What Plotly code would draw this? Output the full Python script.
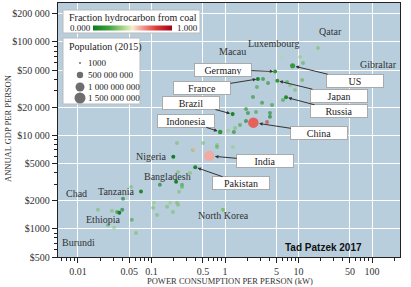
import numpy as np
import plotly.graph_objects as go

# ---------------- data ----------------
countries = ["China", "India", "US", "Indonesia", "Brazil", "Pakistan", "Nigeria",
             "Bangladesh", "Russia", "Japan", "Ethiopia", "Germany", "France",
             "Tanzania", "North Korea"]
power_kw = [2.43, 0.61, 8.3, 0.86, 1.27, 0.394, 0.198, 0.216, 6.76, 5.15, 0.0365,
            4.8, 2.8, 0.072, 0.94]
gdp = [13700, 6040, 55700, 10900, 16900, 4570, 5930, 3200, 25600, 38500, 1490,
       48300, 40200, 2510, 1600]
population = [1371e6, 1311e6, 321e6, 258e6, 206e6, 189e6, 182e6, 161e6, 144e6,
              127e6, 99e6, 81e6, 66e6, 53e6, 25e6]
coal_frac = [0.74, 0.60, 0.14, 0.12, 0.04, 0.03, 0.0, 0.02, 0.06, 0.12, 0.0,
             0.12, 0.04, 0.05, 0.30]

# other (unlabelled) countries
other_kw = [1.93, 2.05, 1.37, 1.6, 1.93, 1.1, 1.32, 3.73, 3.19, 2.64, 0.379, 0.502,
            0.778, 1.28, 3.29, 3.85, 6.98, 7.66, 4.36, 4.09, 6.15, 8.96, 11.2, 11.5,
            10.5, 18.4, 2.4, 2.72, 4.09, 5.97, 0.041, 0.034, 0.040, 0.029, 0.0187,
            0.054, 0.031, 0.0256, 0.0615, 0.053, 0.108, 0.13, 0.237, 0.163, 0.179,
            0.222, 0.105, 0.119, 0.26, 0.222, 0.23, 0.367, 0.26, 0.334, 0.778, 0.23,
            0.196]
other_gdp = [19200, 17400, 12000, 12900, 14300, 11200, 10900, 13900, 22300, 17800,
             7170, 8310, 7530, 7530, 40200, 36400, 37400, 34700, 21200, 17400, 24000,
             30700, 39200, 59600, 69200, 86300, 25800, 33000, 15800, 69200, 2100, 1520,
             1600, 1560, 1600, 1250, 1030, 1100, 906, 2810, 1900, 2960, 2490, 1720,
             1900, 1900, 1680, 1410, 2960, 8310, 4070, 7000, 2810, 3970, 7910, 1810,
             1520]
other_pop = [10e6, 20e6, 8e6, 30e6, 12e6, 9e6, 40e6, 5e6, 10e6, 20e6, 20e6, 6e6,
             8e6, 5e6, 20e6, 10e6, 8e6, 10e6, 5e6, 40e6, 5e6, 9e6, 8e6, 3e6, 4e6,
             2e6, 5e6, 10e6, 30e6, 3e6, 15e6, 12e6, 30e6, 8e6, 10e6, 8e6, 10e6, 5e6,
             5e6, 5e6, 10e6, 50e6, 8e6, 8e6, 8e6, 8e6, 6e6, 6e6, 10e6, 8e6, 10e6,
             30e6, 8e6, 20e6, 10e6, 8e6, 8e6]
other_coal = [0.1, 0.05, 0.3, 0.2, 0.0, 0.35, 0.05, 0.85, 0.1, 0.2, 0.58, 0.3,
              0.25, 0.35, 0.05, 0.1, 0.2, 0.3, 0.15, 0.05, 0.2, 0.3, 0.25, 0.25, 0.35,
              0.3, 0.1, 0.2, 0.0, 0.4, 0.0, 0.1, 0.0, 0.3, 0.3, 0.2, 0.35, 0.25, 0.3,
              0.3, 0.35, 0.0, 0.3, 0.3, 0.35, 0.3, 0.3, 0.3, 0.2, 0.3, 0.3, 0.3,
              0.25, 0.3, 0.3, 0.3, 0.3]

# text-only country labels (position in data units)
plain_labels = ["Qatar", "Luxembourg", "Macau", "Gibraltar", "Chad", "Burundi"]
plain_kw = [26.8, 4.5, 1.28, 120.7, 0.0094, 0.0103]
plain_gdp = [128800, 97500, 78200, 56800, 2370, 708]

# boxed labels: country -> box offset (px)
boxed = {"Germany": (-52, -2), "France": (-56, 9), "Brazil": (-42, -11),
         "Indonesia": (-34, -11), "US": (62, 15), "Japan": (62, 15),
         "Russia": (53, 14), "China": (66, 10), "India": (56, 5),
         "Pakistan": (46, 16)}

x_ticks = [0.01, 0.05, 0.1, 0.5, 1, 5, 10, 50, 100]
x_ticktext = ["0.01", "0.05", "0.1", "0.5", "1", "5", "10", "50", "100"]
y_ticks = [500, 1000, 2000, 5000, 10000, 20000, 50000, 100000, 200000]
y_ticktext = ["$500", "$1000", "$2000", "$5000", "$10 000", "$20 000", "$50 000",
              "$100 000", "$200 000"]

legend_pops = [1000, 500e6, 1000e6, 1500e6]
legend_text = ["1000", "500 000 000", "1 000 000 000", "1 500 000 000"]

# ---------------- figure ----------------
W, H = 411, 287
ML, MR, MT, MB = 58, 11, 3, 30
PW, PH = W - ML - MR, H - MT - MB


def px(xp):
    return (xp - ML) / PW


def py(yp):
    return (H - MB - yp) / PH


SERIF = "Liberation Serif, Times New Roman, serif"
cscale = [[0.0, "#0a7a1c"], [0.2, "#3ea23a"], [0.38, "#a8d488"], [0.5, "#f4f0cc"],
          [0.6, "#f4a8a0"], [0.8, "#e03a34"], [1.0, "#a0001e"]]
MAXD = 11.0
sref = np.sqrt(1.5e9) / MAXD

all_x = list(power_kw) + list(other_kw)
all_y = list(gdp) + list(other_gdp)
all_p = list(population) + list(other_pop)
all_c = list(coal_frac) + list(other_coal)
all_o = [0.95] * len(power_kw) + [0.6] * len(other_kw)
order = np.argsort(all_p)[::-1]
ax_ = np.array(all_x)[order]
ay_ = np.array(all_y)[order]
ap_ = np.array(all_p)[order]
ac_ = np.array(all_c)[order]
ao_ = np.array(all_o)[order]

fig = go.Figure()
fig.add_trace(go.Scatter(
    x=ax_, y=ay_, mode="markers", hoverinfo="skip", showlegend=False,
    marker=dict(size=np.sqrt(ap_), sizemode="diameter", sizeref=sref, sizemin=2,
                color=ac_, cmin=0, cmax=1, colorscale=cscale, opacity=ao_,
                line=dict(width=0), showscale=True,
                colorbar=dict(orientation="h", x=px(132.5), xanchor="center",
                              y=py(27.5), yanchor="middle", len=79, lenmode="pixels",
                              thickness=5, thicknessmode="pixels", outlinewidth=0,
                              showticklabels=False, ticks="", xpad=0, ypad=0,
                              bgcolor="rgba(0,0,0,0)"))))

annotations = []
shapes = []

# legend boxes
shapes.append(dict(type="rect", xref="paper", yref="paper", x0=px(63), x1=px(200),
                   y0=py(33), y1=py(10), fillcolor="white", line=dict(color="#bbbbbb", width=1),
                   layer="above"))
shapes.append(dict(type="rect", xref="paper", yref="paper", x0=px(63), x1=px(140),
                   y0=py(104), y1=py(38), fillcolor="white", line=dict(color="#bbbbbb", width=1),
                   layer="above"))
annotations.append(dict(xref="paper", yref="paper", x=px(67), y=py(17), xanchor="left",
                        yanchor="middle", text="Fraction hydrocarbon from coal",
                        showarrow=False, font=dict(family=SERIF, size=10, color="#222")))
annotations.append(dict(xref="paper", yref="paper", x=px(68), y=py(27.5), xanchor="left",
                        yanchor="middle", text="0.000", showarrow=False,
                        font=dict(family=SERIF, size=9, color="#222")))
annotations.append(dict(xref="paper", yref="paper", x=px(175), y=py(27.5), xanchor="left",
                        yanchor="middle", text="1.000", showarrow=False,
                        font=dict(family=SERIF, size=9, color="#222")))
annotations.append(dict(xref="paper", yref="paper", x=px(67), y=py(47), xanchor="left",
                        yanchor="middle", text="Population (2015)", showarrow=False,
                        font=dict(family=SERIF, size=10, color="#222")))
leg_y = [63, 75, 87, 98]
for p, t, yy in zip(legend_pops, legend_text, leg_y):
    d = max(2.0, np.sqrt(p) / sref)
    shapes.append(dict(type="circle", xref="paper", yref="paper", xsizemode="pixel",
                       ysizemode="pixel", xanchor=px(80), yanchor=py(yy),
                       x0=-d / 2, x1=d / 2, y0=-d / 2, y1=d / 2,
                       fillcolor="#6e6e6e", line=dict(width=0), layer="above"))
    annotations.append(dict(xref="paper", yref="paper", x=px(86), y=py(yy),
                            xanchor="left", yanchor="middle", text=t, showarrow=False,
                            font=dict(family=SERIF, size=9, color="#222")))

# boxed labels with arrows
for name, (dx, dy) in boxed.items():
    i = countries.index(name)
    r = np.sqrt(population[i]) / sref / 2
    annotations.append(dict(
        x=np.log10(power_kw[i]), y=np.log10(gdp[i]), xref="x", yref="y",
        text=name, showarrow=True, ax=dx, ay=dy, axref="pixel", ayref="pixel",
        arrowhead=2, arrowsize=0.7, arrowwidth=1, arrowcolor="#333",
        standoff=r + 0.5, bgcolor="white", bordercolor="#aaaaaa", borderwidth=1,
        borderpad=1, width=54, height=10,
        font=dict(family=SERIF, size=10, color="#222")))

# labels next to points
side = {"Nigeria": ("right", -4, 0), "Bangladesh": ("center", -9, 5),
        "Tanzania": ("right", -4, 0), "Ethiopia": ("center", -16, -7),
        "North Korea": ("center", 0, -6)}
for name, (anc, xs, ys) in side.items():
    i = countries.index(name)
    annotations.append(dict(x=np.log10(power_kw[i]), y=np.log10(gdp[i]), xref="x", yref="y",
                            text=name, showarrow=False, xanchor=anc, yanchor="middle",
                            xshift=xs, yshift=ys,
                            font=dict(family=SERIF, size=10, color="#333")))

for t, xv, yv in zip(plain_labels, plain_kw, plain_gdp):
    annotations.append(dict(x=np.log10(xv), y=np.log10(yv), xref="x", yref="y", text=t,
                            showarrow=False, xanchor="center", yanchor="middle",
                            font=dict(family=SERIF, size=10, color="#333")))

annotations.append(dict(xref="paper", yref="paper", x=px(323), y=py(247), text="<b>Tad Patzek 2017</b>",
                        showarrow=False, xanchor="center", yanchor="middle",
                        font=dict(family="Liberation Sans Narrow, Liberation Sans, sans-serif",
                                  size=10, color="#111")))

# axis titles
annotations.append(dict(xref="paper", yref="paper", x=px(8), y=py(129), text="ANNUAL GDP PER PERSON",
                        textangle=-90, showarrow=False, xanchor="center", yanchor="middle",
                        font=dict(family=SERIF, size=8.5, color="#333")))
annotations.append(dict(xref="paper", yref="paper", x=px(230), y=py(281),
                        text="POWER CONSUMPTION PER PERSON (kW)",
                        showarrow=False, xanchor="center", yanchor="middle",
                        font=dict(family=SERIF, size=8.5, color="#333")))

x_minor = [m * 10.0 ** e for e in range(-3, 3) for m in range(2, 10)
           if not (m == 5 and e >= -2)]
y_minor = [m * 10.0 ** e for e in range(2, 6) for m in range(2, 10)
           if not (m in (2, 5) and e >= 2)]

fig.update_layout(
    width=W, height=H, margin=dict(l=ML, r=MR, t=MT, b=MB, autoexpand=False),
    paper_bgcolor="white", plot_bgcolor="#b8cedc",
    annotations=annotations, shapes=shapes,
    xaxis=dict(type="log", range=[np.log10(0.00535), np.log10(240)],
               tickvals=x_ticks, ticktext=x_ticktext, ticks="outside", ticklen=5,
               tickcolor="#222", showgrid=True, gridcolor="white", gridwidth=1,
               showline=True, linecolor="#222", linewidth=1.3, mirror=True, zeroline=False,
               tickfont=dict(family=SERIF, size=10, color="#333"),
               minor=dict(tickvals=x_minor, ticks="outside", ticklen=3, tickcolor="#222",
                          showgrid=False)),
    yaxis=dict(type="log", range=[np.log10(500), 5.417],
               tickvals=y_ticks, ticktext=y_ticktext, ticks="outside", ticklen=5,
               tickcolor="#222", showgrid=True, gridcolor="white", gridwidth=1,
               showline=True, linecolor="#222", linewidth=1.3, mirror=True, zeroline=False,
               tickfont=dict(family=SERIF, size=10, color="#333"),
               minor=dict(tickvals=y_minor, ticks="outside", ticklen=3, tickcolor="#222",
                          showgrid=False)),
)

fig.write_html("out.html")
